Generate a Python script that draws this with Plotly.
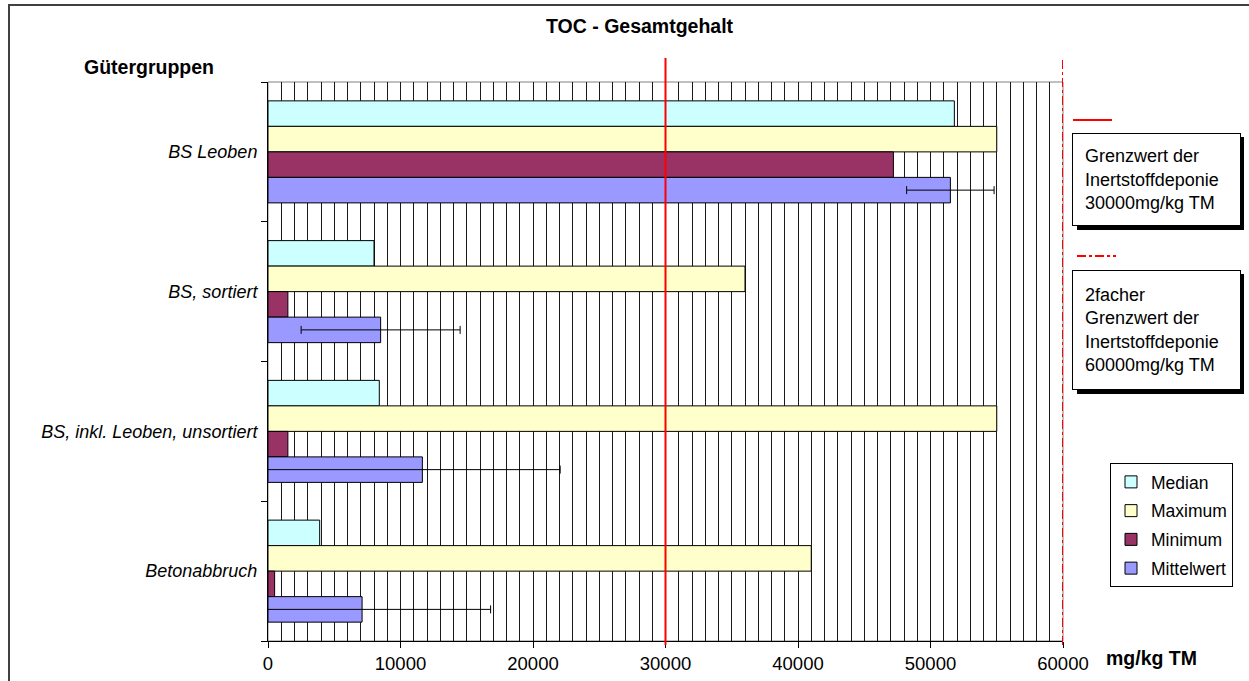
import plotly.graph_objects as go

# ---- data ----
categories = ["BS Leoben", "BS, sortiert", "BS, inkl. Leoben, unsortiert", "Betonabbruch"]
median = [51800, 8000, 8400, 3900]
maximum = [55000, 36000, 55000, 41000]
minimum = [47200, 1500, 1500, 500]
mittelwert = [51500, 8500, 11650, 7100]
mittelwert_err_plus = [3300, 6000, 10400, 9700]
mittelwert_err_minus = [3300, 6000, 12000, 9700]
grenzwert = 30000
grenzwert_2fach = 60000
x_ticks = [0, 10000, 20000, 30000, 40000, 50000, 60000]

FONT = "Liberation Sans, Arial, sans-serif"

series = [
    ("Median", median, "#CCFFFF", None),
    ("Maximum", maximum, "#FFFFCC", None),
    ("Minimum", minimum, "#993366", None),
    ("Mittelwert", mittelwert, "#9999FF", (mittelwert_err_plus, mittelwert_err_minus)),
]

fig = go.Figure()
for i, (name, vals, col, err) in enumerate(series):
    kw = {}
    if err is not None:
        kw["error_x"] = dict(type="data", array=err[0], arrayminus=err[1], symmetric=False,
                             color="black", thickness=1, width=4)
    fig.add_trace(go.Bar(
        y=categories, x=vals, name=name, orientation="h",
        marker=dict(color=col, line=dict(color="black", width=1)),
        legendgroup=name, **kw))

W, H = 1249, 681
L, R, T, B = 268, 1063, 82, 641


def px(x):
    return (x - L) / (R - L)


def py(y):
    return (B - y) / (B - T)


shapes = []
# outer frame (top and left visible)
shapes.append(dict(type="rect", xref="paper", yref="paper", x0=px(9), x1=px(1260), y0=py(690), y1=py(5),
                   line=dict(color="#404040", width=2), fillcolor="rgba(0,0,0,0)", layer="below"))
# plot area border (gray)
shapes.append(dict(type="rect", xref="paper", yref="paper", x0=0, x1=1, y0=0, y1=1,
                   line=dict(color="#808080", width=1), layer="below"))
# threshold lines
shapes.append(dict(type="line", xref="x", yref="paper", x0=grenzwert, x1=grenzwert, y0=py(645), y1=py(58),
                   line=dict(color="#FF0000", width=2), layer="above"))
shapes.append(dict(type="line", xref="x", yref="paper", x0=grenzwert_2fach, x1=grenzwert_2fach, y0=py(645), y1=py(58),
                   line=dict(color="#FF0000", width=2, dash="dashdot"), layer="above"))
# key lines for text boxes
shapes.append(dict(type="line", xref="paper", yref="paper", x0=px(1073), x1=px(1112), y0=py(120), y1=py(120),
                   line=dict(color="#FF0000", width=2)))
shapes.append(dict(type="line", xref="paper", yref="paper", x0=px(1077), x1=px(1116), y0=py(256), y1=py(256),
                   line=dict(color="#FF0000", width=2, dash="dashdot")))
# shadows
for (y0, y1) in [(133, 226), (270, 390)]:
    shapes.append(dict(type="rect", xref="paper", yref="paper", x0=px(1077), x1=px(1244), y0=py(y1 + 4), y1=py(y0 + 4),
                       line=dict(color="black", width=0), fillcolor="black", layer="above"))

annotations = [
    dict(text="<b>TOC - Gesamtgehalt</b>", xref="paper", yref="paper", x=px(640), y=py(26),
         showarrow=False, font=dict(size=19.5, family=FONT, color="black"), xanchor="center", yanchor="middle"),
    dict(text="<b>Gütergruppen</b>", xref="paper", yref="paper", x=px(149), y=py(67),
         showarrow=False, font=dict(size=19.5, family=FONT, color="black"), xanchor="center", yanchor="middle"),
    dict(text="<b>mg/kg TM</b>", xref="paper", yref="paper", x=px(1151), y=py(658),
         showarrow=False, font=dict(size=19.5, family=FONT, color="black"), xanchor="center", yanchor="middle"),
    dict(text="Grenzwert der<br>Inertstoffdeponie<br>30000mg/kg TM", xref="paper", yref="paper",
         x=px(1156.5), y=py(179.5), showarrow=False, align="left", valign="middle",
         width=143, height=67, borderpad=12, bordercolor="black", borderwidth=1, bgcolor="white",
         font=dict(size=18, family=FONT, color="black"), xanchor="center", yanchor="middle"),
    dict(text="2facher<br>Grenzwert der<br>Inertstoffdeponie<br>60000mg/kg TM", xref="paper", yref="paper",
         x=px(1156.5), y=py(330), showarrow=False, align="left", valign="middle",
         width=143, height=94, borderpad=12, bordercolor="black", borderwidth=1, bgcolor="white",
         font=dict(size=18, family=FONT, color="black"), xanchor="center", yanchor="middle"),
]

fig.update_layout(
    width=W, height=H,
    margin=dict(l=L, r=W - R, t=T, b=H - B, autoexpand=False),
    paper_bgcolor="white", plot_bgcolor="white",
    barmode="group", bargap=0.27, bargroupgap=0,
    font=dict(family=FONT, size=18, color="black"),
    showlegend=True,
    legend=dict(x=px(1110), y=py(463), xanchor="left", yanchor="top",
                bordercolor="black", borderwidth=1, bgcolor="white",
                font=dict(size=17.5, family=FONT), tracegroupgap=3, traceorder="grouped"),
    shapes=shapes, annotations=annotations,
)

fig.update_xaxes(range=[0, 60000], tickvals=x_ticks, tickformat="d",
                 ticks="outside", ticklen=6, tickcolor="black",
                 showline=True, linecolor="black", linewidth=1,
                 showgrid=True, gridcolor="#1a1a1a", gridwidth=1,
                 minor=dict(dtick=1000, showgrid=True, gridcolor="#1a1a1a", gridwidth=1),
                 tickfont=dict(size=18.5, family=FONT), zeroline=False)
fig.update_yaxes(autorange="reversed", categoryorder="array", categoryarray=categories,
                 ticks="outside", tickson="boundaries", ticklen=6, tickcolor="black",
                 showline=True, linecolor="black", linewidth=1, showgrid=False,
                 tickfont=dict(size=18, family=FONT), ticklabelstandoff=6,
                 ticktext=[f"<i>{c}</i>" for c in categories], tickvals=categories)

fig.write_html("out.html", config={"displayModeBar": False},
               post_script="document.body.style.margin='0';document.body.style.overflow='hidden';")
